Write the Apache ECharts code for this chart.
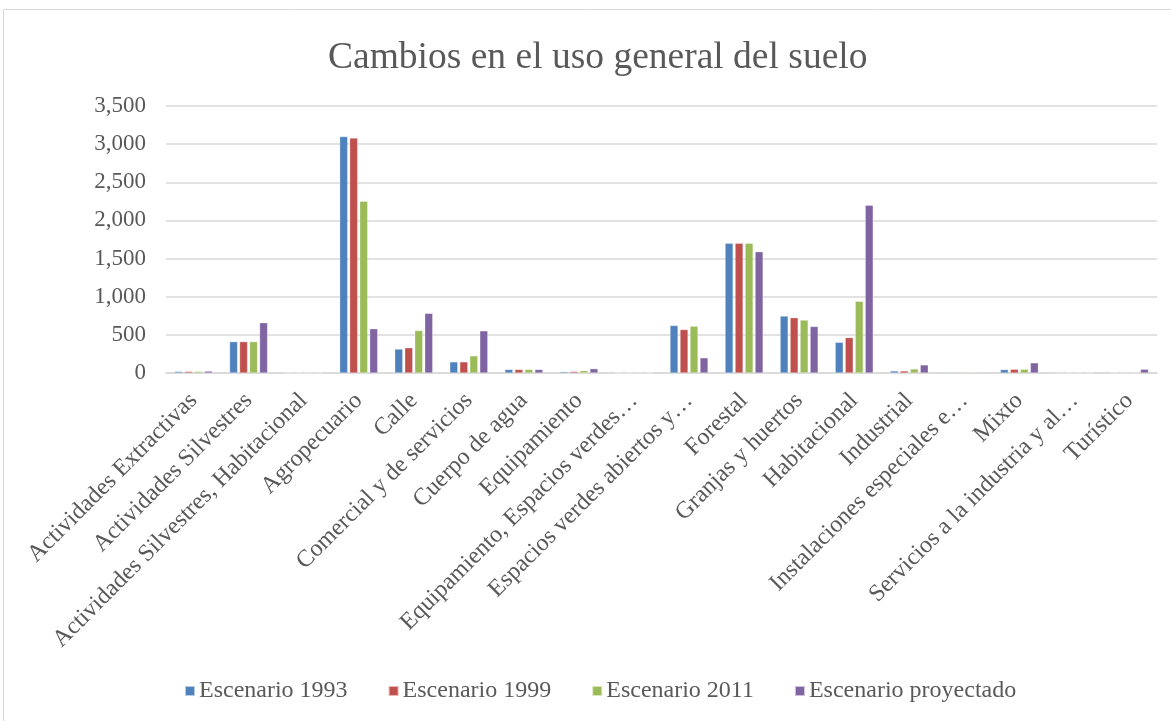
<!DOCTYPE html>
<html><head><meta charset="utf-8">
<script src="https://cdn.jsdelivr.net/npm/echarts@6/dist/echarts.min.js"></script>
<style>html,body{margin:0;padding:0;background:#fff}#c{width:1171px;height:721px}</style>
</head><body><div id="c"></div>
<script>
const categories = ["Actividades Extractivas","Actividades Silvestres","Actividades Silvestres, Habitacional","Agropecuario","Calle","Comercial y de servicios","Cuerpo de agua","Equipamiento","Equipamiento, Espacios verdes…","Espacios verdes abiertos y…","Forestal","Granjas y huertos","Habitacional","Industrial","Instalaciones especiales e…","Mixto","Servicios a la industria y al…","Turístico"];
const s1993 = [20, 411, 0, 3100, 314, 146, 46, 17, 0, 623, 1700, 747, 402, 27, 10, 45, 0, 0];
const s1999 = [20, 411, 0, 3080, 331, 146, 46, 20, 0, 570, 1700, 725, 464, 27, 10, 49, 0, 0];
const s2011 = [20, 411, 0, 2250, 557, 225, 46, 30, 0, 614, 1700, 694, 940, 53, 10, 49, 0, 0];
const sProy = [25, 659, 0, 580, 782, 553, 46, 57, 0, 199, 1590, 610, 2200, 106, 10, 133, 0, 49];
const seriesNames = ["Escenario 1993","Escenario 1999","Escenario 2011","Escenario proyectado"];
const colors = ["#4f81bd","#c0504d","#9bbb59","#8064a2"];
const yTicks = {min:0, max:3500, interval:500};

const font = "'Liberation Serif','Times New Roman',serif";
const chart = echarts.init(document.getElementById('c'));
const data = [s1993, s1999, s2011, sProy];
chart.setOption({
  animation:false,
  color: colors,
  graphic:[{type:'rect', shape:{x:3.5,y:9.5,width:1180,height:730}, style:{fill:'none', stroke:'#d9d9d9', lineWidth:1}, silent:true}],
  title:{text:'Cambios en el uso general del suelo', left:323, top:34,
    textStyle:{fontFamily:font, fontSize:37.5, fontWeight:'normal', color:'#595959'}},
  legend:{bottom:13, left:179, itemWidth:10, itemHeight:10, itemGap:40, icon:'rect',
    textStyle:{fontFamily:font, fontSize:24, color:'#595959', padding:[0,0,0,-1]}, data: seriesNames},
  grid:{left:166, right:14, top:106, bottom:348},
  xAxis:{type:'category', data:categories,
    axisLine:{lineStyle:{color:'#d9d9d9', width:1.5}}, axisTick:{show:false},
    axisLabel:{interval:0, rotate:45, fontFamily:font, fontSize:24, color:'#595959', margin:24}},
  yAxis:{type:'value', min:yTicks.min, max:yTicks.max, interval:yTicks.interval,
    axisLine:{show:false}, axisTick:{show:false},
    splitLine:{lineStyle:{color:'#d9d9d9', width:1.5}},
    axisLabel:{fontFamily:font, fontSize:23, color:'#595959', margin:20,
      formatter: v => v.toLocaleString('en-US')}},
  series: data.map((d,i)=>({name:seriesNames[i], type:'bar', data:d, barWidth:8, barGap:'25%',
    itemStyle:{color:colors[i], borderColor:'rgba(255,255,255,0.6)', borderWidth:0.5}}))
});
</script></body></html>
